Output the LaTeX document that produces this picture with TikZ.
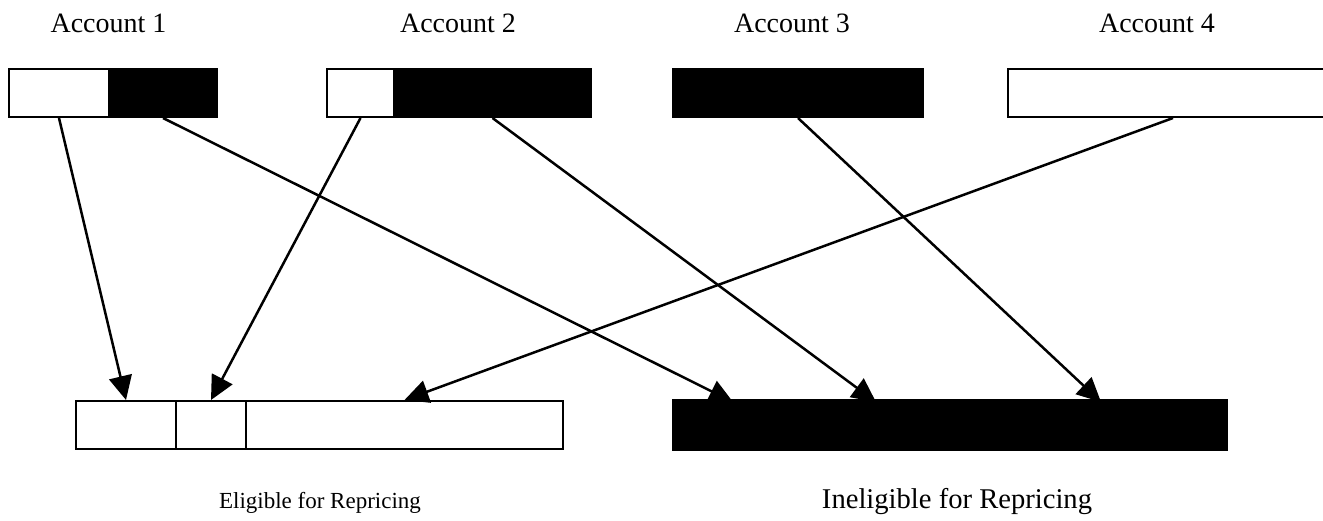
\documentclass[tikz,border=0pt]{standalone}
\usepackage{fontspec}
\setmainfont{Liberation Serif}
\usetikzlibrary{arrows.meta}
\begin{document}
\begin{tikzpicture}[x=1pt,y=-1pt,
  seg/.style={draw=black,line width=2pt,rectangle,inner sep=0pt,anchor=north west,minimum height=48pt},
  wseg/.style={seg,fill=white},
  bseg/.style={seg,fill=black},
  lab/.style={anchor=base,inner sep=0pt,font=\fontsize{28}{34}\selectfont},
  flow/.style={line width=2.5pt,-{Triangle[length=24pt,width=23pt]}}]
\useasboundingbox (0,0) rectangle (1323,520);
% labels
\node[lab] (l1) at (108.5,32) {Account 1};
\node[lab] (l2) at (458,32) {Account 2};
\node[lab] (l3) at (792,32) {Account 3};
\node[lab] (l4) at (1157,32) {Account 4};
\node[lab,font=\fontsize{23}{28}\selectfont] (le) at (320,508) {Eligible for Repricing};
\node[lab,font=\fontsize{28.6}{34}\selectfont] (li) at (957,508) {Ineligible for Repricing};
% top boxes
\node[wseg,minimum width=100pt] (a1w) at (8,68) {};
\node[bseg,minimum width=108pt] (a1b) at (108,68) {};
\node[wseg,minimum width=67pt] (a2w) at (326,68) {};
\node[bseg,minimum width=197pt] (a2b) at (393,68) {};
\node[bseg,minimum width=250pt] (a3b) at (672,68) {};
\node[wseg,minimum width=330pt] (a4w) at (1007,68) {};
% bottom left boxes
\node[wseg,minimum width=100pt] (e1) at (75,400) {};
\node[wseg,minimum width=70pt] (e2) at (175,400) {};
\node[wseg,minimum width=317pt] (e3) at (245,400) {};
% target points on ineligible box
\coordinate (t1) at (733,402);
\coordinate (t2) at (876,402);
\coordinate (t3) at (1101,402);
% arrows
\draw[flow] (a1w.south) -- (e1.north);
\draw[flow] (a2w.south) -- (e2.north);
\draw[flow] (a4w.south) -- (e3.north);
\draw[flow] (a1b.south) -- (t1);
\draw[flow] (a2b.south) -- (t2);
\draw[flow] (a3b.south) -- (t3);
% ineligible box
\node[draw=black,fill=black,line width=0pt,rectangle,inner sep=0pt,anchor=north west,minimum width=555pt,minimum height=51pt] (r) at (672,399.5) {};
\end{tikzpicture}
\end{document}
